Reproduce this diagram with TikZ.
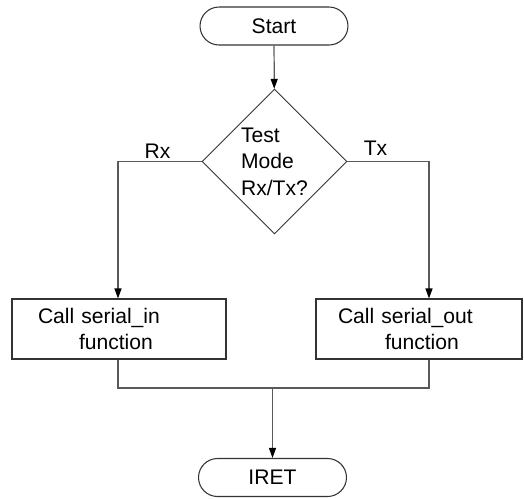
\documentclass[tikz,border=0pt]{standalone}
\usepackage{fontspec}
\setmainfont{Liberation Sans}
\usetikzlibrary{shapes.geometric,arrows.meta}
\begin{document}
\begin{tikzpicture}[x=0.02cm, y=-0.02cm, font=\fontsize{12}{14.5}\selectfont]
            \tikzstyle{terminal} = [draw=black!80, line width=0.6pt, rounded corners=0.38cm, minimum width=2.96cm, minimum height=0.76cm, inner sep=0pt]
            \tikzstyle{decision} = [draw=black!80, line width=0.5pt, diamond, minimum size=2.9cm, inner sep=0pt, align=left, font=\fontsize{12}{15}\selectfont]
            \tikzstyle{process} = [draw=black!80, line width=0.6pt, rectangle, minimum height=1.2cm, text width=3.24cm, align=left]
            \tikzstyle{line} = [draw=black!65, line width=0.7pt]
            \tikzstyle{flow} = [line, -{Triangle[length=2mm, width=1.4mm, fill=black, color=black]}]
            \useasboundingbox (0, 0) rectangle (524, 498);
            \node[terminal] (start) at (274, 26) {Start};
            \node[decision] (test) at (274.5, 161.5) {Test\\Mode\\Rx/Tx?};
            \node[process, inner xsep=0.52cm] (rxbox) at (119, 329) {Call serial\_in\\\hspace*{0.82cm}function};
            \node[process, inner xsep=0.44cm] (txbox) at (419, 329) {Call serial\_out\\\hspace*{0.94cm}function};
            \node[terminal] (iret) at (272.5, 477.5) {IRET};
            \coordinate (rxturn) at (118, 161.5);
            \coordinate (txturn) at (429, 161.5);
            \coordinate (join) at (272.5, 388);
            \draw[flow] (start) -- (test);
            \draw[flow] (test.west) -- (rxturn) -- (rxturn |- rxbox.north);
            \draw[flow] (test.east) -- (txturn) -- (txturn |- txbox.north);
            \node[anchor=base] (rxlabel) at (157.5, 158) {Rx};
            \node[anchor=base] (txlabel) at (375.5, 155) {Tx};
            \draw[line] (rxturn |- rxbox.south) -- (rxturn |- join) -- (txturn |- join) -- (txturn |- txbox.south);
            \draw[flow] (join) -- (iret);
        \end{tikzpicture}
\end{document}
